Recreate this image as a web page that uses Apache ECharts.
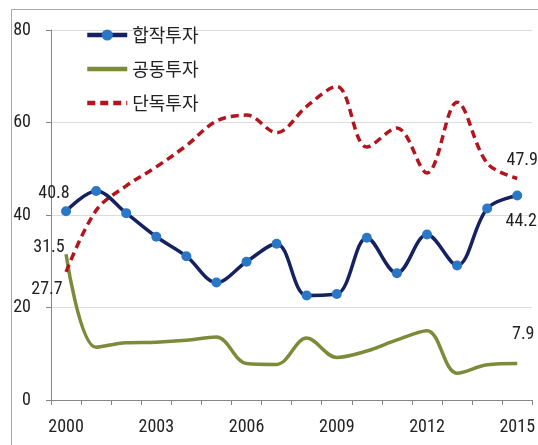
<!DOCTYPE html>
<html>
<head>
<meta charset="utf-8">
<script src="https://cdn.jsdelivr.net/npm/echarts@6/dist/echarts.min.js"></script>
<style>
  html, body { margin: 0; padding: 0; background: #fff; }
  #chart { width: 538px; height: 445px; }
</style>
</head>
<body>
<div id="chart"></div>
<script>
// Investment-type shares by year (%)
const years = ['2000','2001','2002','2003','2004','2005','2006','2007','2008','2009','2010','2011','2012','2013','2014','2015'];
const jointVenture = [40.8, 45.2, 40.4, 35.3, 31.1, 25.4, 29.9, 33.8, 22.6, 22.9, 35.1, 27.4, 35.8, 29.1, 41.4, 44.2];
const coInvestment = [31.5, 11.4, 12.4, 12.5, 12.9, 13.6, 7.9, 7.7, 13.4, 9.2, 10.6, 13.0, 15.0, 5.8, 7.6, 7.9];
const soleInvestment = [27.7, 41.0, 46.3, 50.4, 55.0, 60.3, 61.6, 57.8, 63.5, 67.8, 54.7, 58.8, 49.1, 64.4, 51.2, 47.9];
const seriesNames = ['합작투자', '공동투자', '단독투자'];
const yTicks = { min: 0, max: 80, step: 20 };

const numFont = "'Roboto Condensed', 'Liberation Sans Narrow', Roboto, sans-serif";
const krFont = "'Noto Sans CJK KR', sans-serif";

// first and last points carry value labels, each nudged to its own spot;
// lines without markers get a tiny invisible anchor at those two points
function withEndLabels(values, firstOffset, lastOffset, anchorOnly) {
  const last = values.length - 1;
  return values.map((v, i) => {
    if (i === 0 || i === last) {
      const item = {
        value: v,
        label: {
          show: true,
          position: 'inside',
          offset: i === 0 ? firstOffset : lastOffset,
          formatter: (p) => p.value.toFixed(1),
          fontFamily: numFont,
          fontSize: 18,
          color: '#222'
        }
      };
      if (anchorOnly) {
        item.symbol = 'circle';
        item.symbolSize = 0.01;
      }
      return item;
    }
    return v;
  });
}

const chart = echarts.init(document.getElementById('chart'), null, { renderer: 'canvas' });

chart.setOption({
  animation: false,
  backgroundColor: '#fff',
  grid: { left: 51, right: 5, top: 30, bottom: 45 },
  graphic: [
    { type: 'line', shape: { x1: 11.5, y1: 9.5, x2: 11.5, y2: 445 }, style: { stroke: '#a8a8a8', lineWidth: 1 } },
    { type: 'line', shape: { x1: 11.5, y1: 9.5, x2: 538, y2: 9.5 }, style: { stroke: '#a8a8a8', lineWidth: 1 } }
  ],
  legend: {
    orient: 'vertical',
    left: 80,
    top: 21,
    itemWidth: 40,
    itemHeight: 14,
    itemGap: 16,
    lineStyle: { width: 4.5 },
    textStyle: { fontFamily: krFont, fontSize: 18, color: '#222' },
    data: [
      { name: seriesNames[0] },
      // plain line keys for the two marker-less series
      { name: seriesNames[1], itemStyle: { opacity: 0 } },
      { name: seriesNames[2], itemStyle: { opacity: 0 } }
    ]
  },
  xAxis: {
    type: 'category',
    data: years,
    boundaryGap: true,
    axisLine: { lineStyle: { color: '#868686', width: 1 } },
    axisTick: { show: true, interval: 0, length: 5, lineStyle: { color: '#868686' } },
    axisLabel: { interval: 2, margin: 18, fontFamily: numFont, fontSize: 18, color: '#222' },
    splitLine: { show: false }
  },
  yAxis: {
    type: 'value',
    min: yTicks.min,
    max: yTicks.max,
    interval: yTicks.step,
    axisLine: { show: true, lineStyle: { color: '#868686', width: 1 } },
    axisTick: { show: true, length: 5, lineStyle: { color: '#868686' } },
    axisLabel: { margin: 20, fontFamily: numFont, fontSize: 18, color: '#222' },
    splitLine: { show: true, lineStyle: { color: '#dcdcdc', width: 1 } }
  },
  series: [
    {
      name: seriesNames[0],
      type: 'line',
      smooth: 0.35,
      data: withEndLabels(jointVenture, [-12, -18], [4, 26], false),
      symbol: 'circle',
      symbolSize: 10,
      lineStyle: { color: '#15225f', width: 3.5 },
      itemStyle: { color: '#2b77c6', borderWidth: 0 },
      z: 4
    },
    {
      name: seriesNames[1],
      type: 'line',
      smooth: 0.35,
      data: withEndLabels(coInvestment, [-17, -7], [6, -29], true),
      symbol: 'none',
      lineStyle: { color: '#7c8b3a', width: 3.5 },
      itemStyle: { color: '#7c8b3a' },
      z: 2
    },
    {
      name: seriesNames[2],
      type: 'line',
      smooth: 0.35,
      data: withEndLabels(soleInvestment, [-19, 18], [5, -18], true),
      symbol: 'none',
      lineStyle: { color: '#b3141d', width: 3.5, type: [8, 5] },
      itemStyle: { color: '#b3141d' },
      z: 3
    }
  ]
});
</script>
</body>
</html>
